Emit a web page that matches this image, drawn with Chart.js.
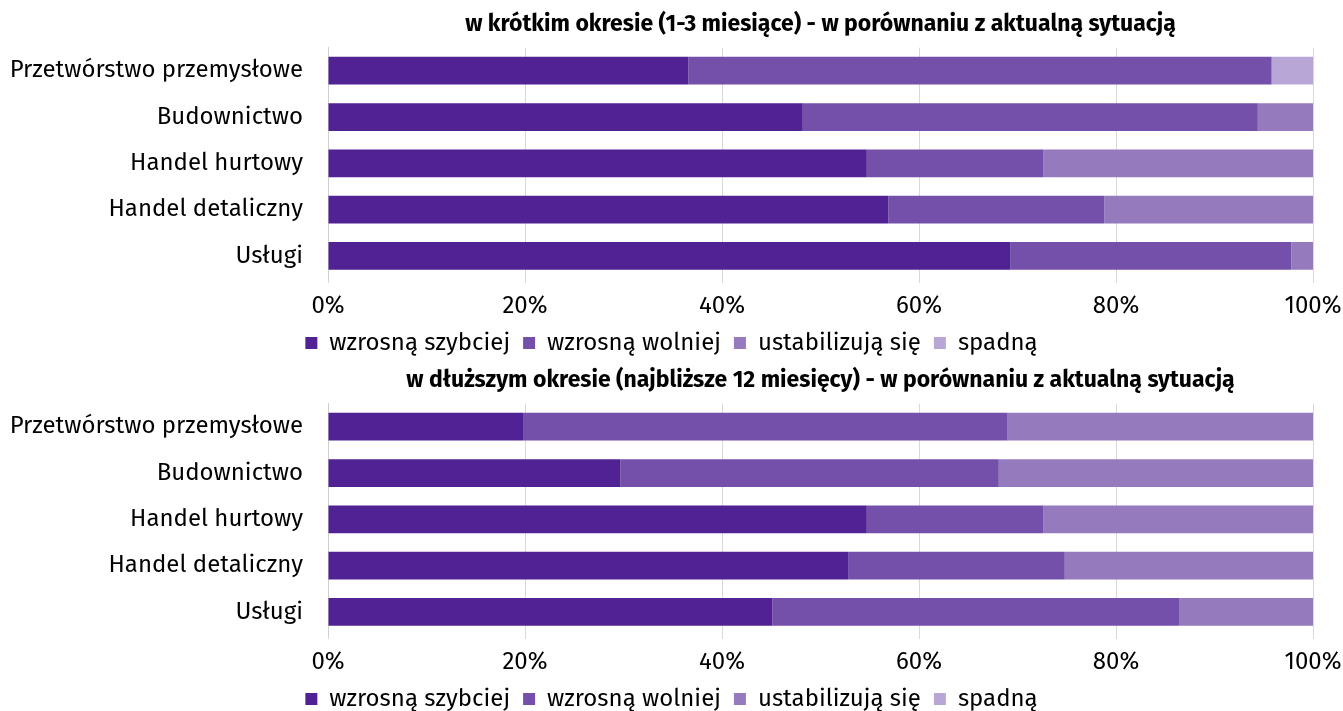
<!DOCTYPE html>
<html>
<head>
<meta charset="utf-8">
<script src="https://cdn.jsdelivr.net/npm/chart.js@4"></script>
<style>
  html, body { margin: 0; padding: 0; background: #fff; overflow: hidden; width: 1343px; height: 711px; }
  .box { position: absolute; left: 0; width: 1343px; height: 365px; }
  #boxShort { top: 0; }
  #boxLong { top: 356px; }
</style>
</head>
<body>
<div class="box" id="boxShort"><canvas id="chartShort"></canvas></div>
<div class="box" id="boxLong"><canvas id="chartLong"></canvas></div>
<script>
var categories = ['Przetwórstwo przemysłowe', 'Budownictwo', 'Handel hurtowy', 'Handel detaliczny', 'Usługi'];
var seriesNames = ['wzrosną szybciej', 'wzrosną wolniej', 'ustabilizują się', 'spadną'];
var xTicks = ['0%', '20%', '40%', '60%', '80%', '100%'];

// w krótkim okresie (1-3 miesiące)
var shortSzybciej = [36.6, 48.2, 54.7, 56.9, 69.3];
var shortWolniej  = [59.2, 46.2, 17.9, 21.9, 28.5];
var shortStab     = [0,    5.6,  27.4, 21.2, 2.2];
var shortSpadna   = [4.2,  0,    0,    0,    0];

// w dłuższym okresie (najbliższe 12 miesięcy)
var longSzybciej = [19.8, 29.7, 54.7, 52.8, 45.1];
var longWolniej  = [49.2, 38.4, 17.9, 22.0, 41.3];
var longStab     = [31.0, 31.9, 27.4, 25.2, 13.6];
var longSpadna   = [0,    0,    0,    0,    0];

var colors = ['#512293', '#7450ab', '#957bbe', '#b8a6d6'];
var FONT = "'Fira Sans', 'Open Sans', sans-serif";

function makeChart(id, title, series) {
    new Chart(document.getElementById(id), {
        type: 'bar',
        data: {
            labels: categories,
            datasets: series.map(function (d, i) {
                return {
                    label: seriesNames[i],
                    data: d,
                    backgroundColor: colors[i],
                    borderWidth: 0,
                    barPercentage: 0.6,
                    categoryPercentage: 1
                };
            })
        },
        options: {
            indexAxis: 'y',
            responsive: true,
            maintainAspectRatio: false,
            animation: false,
            layout: { padding: 0 },
            scales: {
                x: {
                    stacked: true,
                    min: 0,
                    max: 100,
                    grid: { color: '#d9d9d9', tickLength: 4, drawTicks: true },
                    border: { display: false },
                    ticks: {
                        stepSize: 20,
                        padding: 11,
                        color: '#000',
                        font: { family: FONT, size: 24, lineHeight: 1 },
                        callback: function (v) { return xTicks[v / 20]; }
                    },
                    afterFit: function (s) {
                        s.height = 39;
                        s.paddingLeft = 0;
                        s.paddingRight = 30;
                    }
                },
                y: {
                    stacked: true,
                    grid: { display: false, drawTicks: false },
                    border: { display: true, color: '#cfcfcf' },
                    ticks: {
                        padding: 25,
                        color: '#000',
                        font: { family: FONT, size: 24 }
                    },
                    afterFit: function (s) { s.width = 328; }
                }
            },
            plugins: {
                title: {
                    display: true,
                    text: title,
                    fullSize: false,
                    color: '#000',
                    font: { family: FONT, size: 23, weight: 'bold' },
                    padding: { top: 11, bottom: 9 }
                },
                legend: {
                    position: 'bottom',
                    labels: {
                        color: '#000',
                        font: { family: FONT, size: 24 },
                        boxWidth: 12,
                        boxHeight: 12,
                        padding: 13
                    }
                },
                tooltip: { enabled: false }
            }
        }
    });
}

makeChart('chartShort', 'w krótkim okresie (1-3 miesiące) - w porównaniu z aktualną sytuacją',
    [shortSzybciej, shortWolniej, shortStab, shortSpadna]);
makeChart('chartLong', 'w dłuższym okresie (najbliższe 12 miesięcy) - w porównaniu z aktualną sytuacją',
    [longSzybciej, longWolniej, longStab, longSpadna]);
</script>
</body>
</html>
